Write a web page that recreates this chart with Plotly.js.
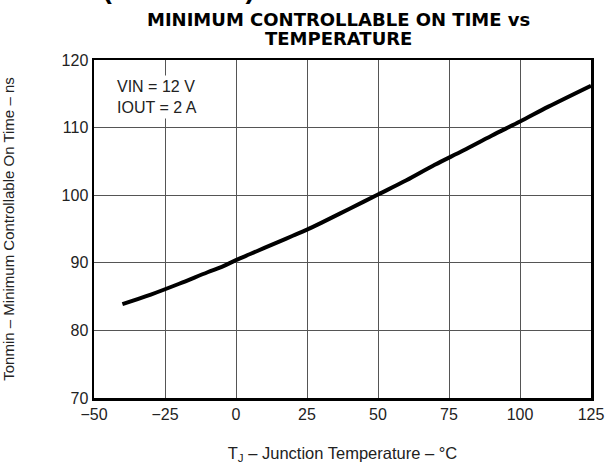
<!DOCTYPE html>
<html>
<head>
<meta charset="utf-8">
<script src="https://cdn.plot.ly/plotly-3.0.1.min.js"></script>
<style>html,body{margin:0;padding:0;background:#fff;}#chart{width:615px;height:469px;}</style>
</head>
<body>
<div id="chart"></div>
<script>
const temperature = [-40, -30, -20, -10, -5, 0, 5, 10, 15, 20, 25, 30, 40, 50, 60, 70, 80, 90, 100, 110, 125];
const onTime = [83.9, 85.3, 86.9, 88.6, 89.4, 90.4, 91.3, 92.2, 93.1, 94.0, 94.9, 95.9, 98.0, 100.1, 102.2, 104.5, 106.6, 108.8, 110.9, 113.1, 116.2];
const xTicks = [-50, -25, 0, 25, 50, 75, 100, 125];
const xTickLabels = ['\u221250', '\u221225', '0', '25', '50', '75', '100', '125'];
const yTicks = [70, 80, 90, 100, 110, 120];
const titleLines = ['MINIMUM CONTROLLABLE ON TIME vs', 'TEMPERATURE'];

const font = 'Liberation Sans, Arial, sans-serif';
const titleFont = {family: 'DejaVu Sans, sans-serif', size: 18, color: '#000'};
const trace = {
  x: temperature, y: onTime, type: 'scatter', mode: 'lines',
  line: {color: '#000', width: 4, shape: 'spline'}, hoverinfo: 'skip'
};
const pxToPaperY = (py) => (398 - py) / 338;
const pxToPaperX = (px) => (px - 94) / 497;
const layout = {
  width: 615, height: 469,
  margin: {l: 94, r: 24, t: 60, b: 71},
  paper_bgcolor: '#fff', plot_bgcolor: '#fff',
  showlegend: false,
  xaxis: {
    range: [-50, 125], tickvals: xTicks, ticktext: xTickLabels,
    showgrid: true, gridcolor: '#555', gridwidth: 1,
    showline: true, linecolor: '#000', linewidth: 2.5, mirror: true,
    ticks: '', zeroline: false,
    tickfont: {family: font, size: 16, color: '#222'},
    title: {text: 'T<sub>J</sub> \u2013 Junction Temperature \u2013 \u00b0C', font: {family: font, size: 16.5, color: '#222'}, standoff: 26}
  },
  yaxis: {
    range: [70, 120], tickvals: yTicks,
    showgrid: true, gridcolor: '#555', gridwidth: 1,
    showline: true, linecolor: '#000', linewidth: 2.5, mirror: true,
    ticks: '', zeroline: false,
    tickfont: {family: font, size: 16, color: '#222'},
    title: {text: 'Tonmin \u2013 Minimum Controllable On Time \u2013 ns', font: {family: font, size: 15, color: '#222'}, standoff: 44}
  },
  annotations: [
    {
      text: 'VIN = 12 V<br>IOUT = 2 A', xref: 'paper', yref: 'paper',
      x: pxToPaperX(114), y: pxToPaperY(75), xanchor: 'left', yanchor: 'top', align: 'left',
      showarrow: false, bgcolor: '#fff', borderpad: 2,
      font: {family: font, size: 16, color: '#222'}
    },
    {
      text: '<b>TYPICAL CHARACTERISTICS (continued)</b>', xref: 'paper', yref: 'paper',
      x: pxToPaperX(257), y: 1.161, xanchor: 'right', yanchor: 'bottom',
      showarrow: false, font: {family: font, size: 28, color: '#000'}
    },
    {
      text: '<b>' + titleLines[0] + '</b>', xref: 'paper', yref: 'paper',
      x: pxToPaperX(338), y: pxToPaperY(7), xanchor: 'center', yanchor: 'top',
      showarrow: false, font: titleFont
    },
    {
      text: '<b>' + titleLines[1] + '</b>', xref: 'paper', yref: 'paper',
      x: pxToPaperX(338), y: pxToPaperY(26), xanchor: 'center', yanchor: 'top',
      showarrow: false, font: titleFont
    }
  ]
};
Plotly.newPlot('chart', [trace], layout, {staticPlot: true, displayModeBar: false});
</script>
</body>
</html>
